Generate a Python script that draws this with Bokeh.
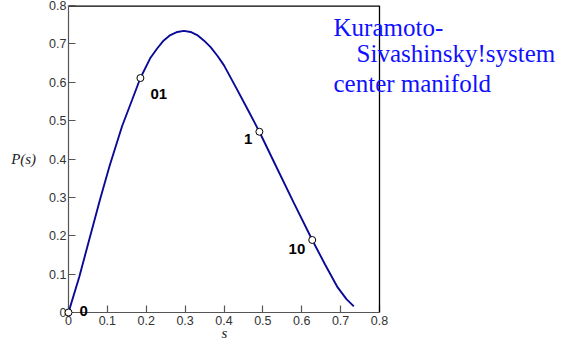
from bokeh.plotting import figure
from bokeh.models import Range1d, FixedTicker, Label, ColumnDataSource, Span, Title
from bokeh.embed import file_html
from bokeh.resources import INLINE
from bokeh.core.properties import value

# ---- data ----
s_curve = [0, 0.028, 0.055, 0.082, 0.106, 0.138, 0.164, 0.185, 0.211, 0.228,
           0.245, 0.262, 0.280, 0.297, 0.314, 0.331, 0.348, 0.365, 0.383,
           0.400, 0.430, 0.460, 0.491, 0.532, 0.579, 0.627, 0.660, 0.692,
           0.715, 0.734]
P_curve = [0, 0.094, 0.196, 0.298, 0.383, 0.486, 0.555, 0.611, 0.664, 0.688,
           0.709, 0.723, 0.731, 0.734, 0.731, 0.723, 0.709, 0.692, 0.669,
           0.644, 0.588, 0.531, 0.471, 0.385, 0.287, 0.189, 0.125, 0.066,
           0.035, 0.016]

point_s = [0, 0.185, 0.491, 0.627]
point_P = [0, 0.611, 0.471, 0.189]
point_labels = ["0", "01", "1", "10"]

x_ticks = [0, 0.1, 0.2, 0.3, 0.4, 0.5, 0.6, 0.7, 0.8]
x_tick_labels = ["0", "0.1", "0.2", "0.3", "0.4", "0.5", "0.6", "0.7", "0.8"]
y_ticks = [0, 0.1, 0.2, 0.3, 0.4, 0.5, 0.6, 0.7, 0.8]
y_tick_labels = ["0", "0.1", "0.2", "0.3", "0.4", "0.5", "0.6", "0.7", "0.8"]

x_title = "s"
y_title = "P(s)"
title_lines = ["Kuramoto-", "Sivashinsky!system", "center manifold"]

# ---- layout (canvas pixels) ----
W, H = 557, 340
LEFT, TOP = 68, 5
AXIS_PX = 311                      # pixels used by the s-range 0..0.8
x_end = x_ticks[-1] * (W - LEFT) / AXIS_PX   # frame extends right to hold the text

p = figure(width=W, height=H, output_backend="svg", toolbar_location=None,
           x_range=Range1d(x_ticks[0], x_end),
           y_range=Range1d(y_ticks[0], y_ticks[-1]),
           min_border_left=LEFT, min_border_right=0, min_border_top=TOP,
           min_border_bottom=0)
p.grid.visible = False
p.background_fill_color = "white"
p.border_fill_color = "white"
p.outline_line_color = None

for ax, ticks, labels in ((p.xaxis[0], x_ticks, x_tick_labels),
                          (p.yaxis[0], y_ticks, y_tick_labels)):
    ax.ticker = FixedTicker(ticks=ticks)
    ax.bounds = (ticks[0], ticks[-1])
    ax.major_label_overrides = {t: l for t, l in zip(ticks, labels)}
    ax.minor_tick_line_color = None
    ax.major_tick_in = 7
    ax.major_tick_out = 0
    ax.axis_line_color = "#555555"
    ax.major_tick_line_color = "#555555"
    ax.axis_line_width = 1.2
    ax.major_tick_line_width = 1.2
    ax.major_label_text_font = "Liberation Sans"
    ax.major_label_text_font_size = "12.5px"
    ax.major_label_text_color = "#333333"

p.xaxis.major_label_standoff = 3

p.yaxis.major_label_standoff = 2
p.yaxis.axis_label = y_title
p.yaxis.axis_label_orientation = "horizontal"
p.yaxis.axis_label_text_font = "Liberation Serif"
p.yaxis.axis_label_text_font_style = "italic"
p.yaxis.axis_label_text_font_size = "15px"
p.yaxis.axis_label_text_color = "#222222"
p.yaxis.axis_label_standoff = 10

# x-axis title, centred under the 0..0.8 span
p.add_layout(Title(text=x_title, align="left", offset=153, standoff=-5,
                   vertical_align="top",
                   text_font="Liberation Serif", text_font_style="italic",
                   text_font_size="15px", text_color="#222222"), "below")

# box: right and top borders of the s-P square
p.add_layout(Span(location=x_ticks[-1], dimension="height",
                  line_color="black", line_width=1.3))
p.line([x_ticks[0], x_ticks[-1]], [y_ticks[-1], y_ticks[-1]],
       line_color="black", line_width=2.6)

# curve
p.line(s_curve, P_curve, line_color="#0a0a96", line_width=1.9)

# points + labels
src = ColumnDataSource(dict(s=point_s, P=point_P, lab=point_labels,
                            xo=[11, 10, -7, -7], yo=[-2, 16, 7, 9],
                            al=["left", "left", "right", "right"]))
p.scatter("s", "P", source=src, size=7, fill_color="white",
          line_color="black", line_width=1, level="overlay")
p.text("s", "P", text="lab", source=src, x_offset="xo", y_offset="yo",
       text_align="al", text_baseline="alphabetic",
       text_font=value("Liberation Sans"), text_font_style="bold",
       text_font_size="15px", text_color="black", level="overlay")

# blue title text
for txt, xx, yy in zip(title_lines, [0.6817, 0.741, 0.6817], [0.743, 0.676, 0.597]):
    p.add_layout(Label(x=xx, y=yy, text=txt, text_font="Liberation Serif",
                       text_font_size="25px", text_color="#1010ff",
                       text_align="left", text_baseline="alphabetic"))

open("out.html", "w").write(file_html(p, INLINE))
